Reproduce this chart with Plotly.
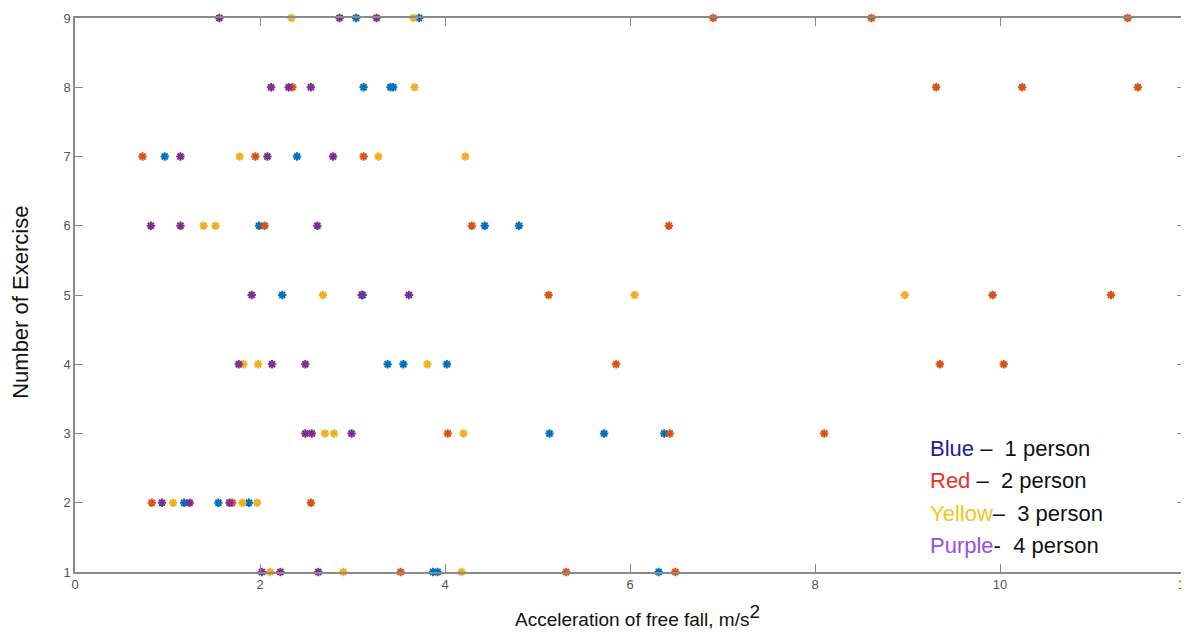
import plotly.graph_objects as go

# Acceleration values (m/s^2) and exercise numbers per group
blue_x = [3.04, 3.72, 3.12, 3.41, 3.44, 0.97, 2.40, 1.99, 4.43, 4.80, 2.24, 3.11,
          3.38, 3.55, 4.02, 5.13, 5.72, 6.37, 1.18, 1.55, 1.88, 3.87, 3.92, 6.31]
blue_y = [9, 9, 8, 8, 8, 7, 7, 6, 6, 6, 5, 5,
          4, 4, 4, 3, 3, 3, 2, 2, 2, 1, 1, 1]

red_x = [6.90, 8.61, 11.38, 2.35, 9.31, 10.24, 11.49, 0.73, 1.95, 3.12, 2.05, 4.29, 6.42,
         5.12, 9.92, 11.20, 5.85, 9.35, 10.04, 4.03, 6.43, 8.10, 0.83, 1.70, 2.55,
         3.52, 5.31, 6.49]
red_y = [9, 9, 9, 8, 8, 8, 8, 7, 7, 7, 6, 6, 6,
         5, 5, 5, 4, 4, 4, 3, 3, 3, 2, 2, 2,
         1, 1, 1]

yellow_x = [2.34, 3.66, 3.67, 1.78, 3.28, 4.22, 1.39, 1.52, 2.68, 6.05, 8.97,
            1.82, 1.98, 3.81, 2.70, 2.80, 4.20, 1.06, 1.81, 1.97, 2.11, 2.90, 4.18]
yellow_y = [9, 9, 8, 7, 7, 7, 6, 6, 5, 5, 5,
            4, 4, 4, 3, 3, 3, 2, 2, 2, 1, 1, 1]

purple_x = [1.56, 2.86, 3.26, 2.12, 2.31, 2.55, 1.14, 2.08, 2.79, 0.82, 1.14, 2.62,
            1.91, 3.10, 3.61, 1.77, 2.13, 2.49, 2.49, 2.56, 2.99, 0.94, 1.24, 1.67,
            2.02, 2.22, 2.63]
purple_y = [9, 9, 9, 8, 8, 8, 7, 7, 7, 6, 6, 6,
            5, 5, 5, 4, 4, 4, 3, 3, 3, 2, 2, 2,
            1, 1, 1]

series = [
    ("1 person", blue_x, blue_y, "#0072BD"),
    ("2 person", red_x, red_y, "#D95319"),
    ("3 person", yellow_x, yellow_y, "#EDB120"),
    ("4 person", purple_x, purple_y, "#7E2F8E"),
]

x_ticks = [0, 2, 4, 6, 8, 10, 12]
y_ticks = [1, 2, 3, 4, 5, 6, 7, 8, 9]

fig = go.Figure()
for name, xs, ys, col in series:
    fig.add_trace(go.Scatter(
        x=xs, y=ys, mode="markers", name=name,
        marker=dict(symbol="asterisk-open", size=7, color=col,
                    line=dict(color=col, width=2)),
        cliponaxis=False,
    ))

axis_common = dict(
    showline=True, linecolor="#8a8a8a", linewidth=1.5, mirror="allticks",
    ticks="inside", ticklen=8, tickcolor="#8a8a8a", tickwidth=1,
    showgrid=False, zeroline=False, automargin=False,
    ticklabeloverflow="allow",
    tickfont=dict(family="Liberation Sans, Arial", size=13, color="#555555"),
)

# page body has an 8px default margin; compensate so the plot area lands
# at the same screen position as the reference
fig.update_layout(
    width=1189, height=632,
    margin=dict(l=67, r=12, t=10, b=68),
    plot_bgcolor="white", paper_bgcolor="white",
    showlegend=False,
    xaxis=dict(range=[0, 12], tickvals=x_ticks, **axis_common),
    yaxis=dict(range=[1, 9], tickvals=y_ticks, **axis_common),
)

# Axis titles
fig.add_annotation(
    xref="paper", yref="paper", x=0.507, y=-0.049, yanchor="top", xanchor="center",
    showarrow=False,
    text="Acceleration of free fall, m/s<sup><span style='font-size:19px'>2</span></sup>",
    font=dict(family="Liberation Sans, Arial", size=19, color="#111111"),
)
fig.add_annotation(
    xref="paper", yref="paper", x=-0.049, y=0.487, xanchor="center", yanchor="middle",
    showarrow=False, textangle=-90, text="Number of Exercise",
    font=dict(family="Liberation Sans, Arial", size=22, color="#111111"),
)

legend_lines = [
    ("Blue", "#1c1c9c", " \u2013  1 person"),
    ("Red", "#e8302a", " \u2013  2 person"),
    ("Yellow", "#f5c518", "\u2013  3 person"),
    ("Purple", "#9b4be8", "-  4 person"),
]
for i, (word, col, rest) in enumerate(legend_lines):
    fig.add_annotation(
        xref="paper", yref="paper", x=(928 - 75) / 1110, y=(572 - (448 + 32.5 * i)) / 554,
        xanchor="left", yanchor="middle", showarrow=False,
        text=f"<span style='color:{col}'>{word}</span>{rest}",
        font=dict(family="Liberation Sans, Arial", size=22, color="#111111"),
        align="left",
    )

fig.write_html("out.html")
